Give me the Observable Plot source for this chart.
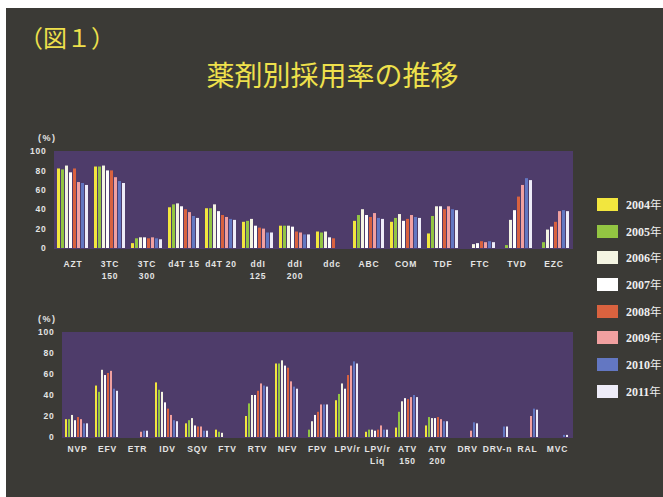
<!DOCTYPE html>
<html><head><meta charset="utf-8">
<script src="https://cdn.jsdelivr.net/npm/d3@7"></script>
<script src="https://cdn.jsdelivr.net/npm/@observablehq/plot@0.6"></script>
<style>
html,body{margin:0;padding:0}
body{background:#fff;width:663px;height:497px;overflow:hidden;position:relative;font-family:"Liberation Sans",Arial,sans-serif}
#panel{position:absolute;left:6px;top:8px;width:657px;height:489px;background:#3b3a36}
.abs{position:absolute}
#fig{left:19px;top:25px;font-size:24px;line-height:1;font-family:"Noto Sans CJK JP";color:#eee04c;white-space:nowrap}
#title{left:0;width:665px;top:60px;text-align:center;font-size:28px;line-height:1;font-family:"Noto Sans CJK JP";color:#eee04c}
.pct{font-size:9px;font-weight:bold;color:#e2e2e2;letter-spacing:1.5px;line-height:1}
#legend{left:597px;top:191px}
.item{display:flex;align-items:center;height:26.7px}
.sw{width:21px;height:13px;margin-right:8px}
.lab{font-family:"Liberation Serif",serif;font-weight:bold;font-size:12px;color:#eeeeee;white-space:nowrap}
.lab span{font-family:"Noto Sans CJK JP";font-weight:normal;font-size:11.5px}
</style></head>
<body>
<div id="panel"></div>
<div id="fig" class="abs">（図１）</div>
<div id="title" class="abs">薬剤別採用率の推移</div>
<div class="abs pct" style="left:38px;top:134px">(%)</div>
<div class="abs pct" style="left:38px;top:315px">(%)</div>
<div id="top" class="abs" style="left:0;top:125px"></div>
<div id="bottom" class="abs" style="left:0;top:305px"></div>
<div id="legend" class="abs"></div>
<script>
const years = ["2004","2005","2006","2007","2008","2009","2010","2011"];
const yearColors = ["#f2e63e","#93c542","#f4f4e2","#ffffff","#d9623f","#f1a0a0","#6377c2","#eeecf8"];
const yTicks = [0, 20, 40, 60, 80, 100];

const topDrugs = ["AZT","3TC\n150","3TC\n300","d4T 15","d4T 20","ddI\n125","ddI\n200","ddc","ABC","COM","TDF","FTC","TVD","EZC"];
const topValues = [
  [82, 81, 85, 78, 82, 68, 67, 65],
  [84, 84, 85, 80, 80, 73, 69, 67],
  [5, 10, 11, 11, 10, 11, 10, 9],
  [42, 45, 46, 43, 40, 37, 33, 31],
  [41, 41, 45, 38, 34, 32, 30, 29],
  [27, 28, 30, 23, 21, 20, 16, 16],
  [23, 23, 23, 22, 17, 16, 14, 14],
  [17, 16, 17, 11, 10, 0, 0, 0],
  [28, 34, 40, 34, 32, 36, 31, 30],
  [27, 31, 35, 28, 30, 34, 32, 31],
  [15, 33, 43, 43, 40, 43, 40, 39],
  [0, 0, 4, 5, 7, 6, 7, 6],
  [0, 3, 29, 39, 53, 65, 72, 70],
  [0, 6, 19, 22, 27, 38, 39, 38]
];

const bottomDrugs = ["NVP","EFV","ETR","IDV","SQV","FTV","RTV","NFV","FPV","LPV/r","LPV/r\nLiq","ATV\n150","ATV\n200","DRV","DRV-n","RAL","MVC"];
const bottomValues = [
  [17, 17, 21, 16, 19, 17, 13, 13],
  [49, 43, 64, 59, 61, 63, 46, 44],
  [0, 0, 0, 0, 0, 5, 6, 6],
  [52, 45, 43, 33, 27, 21, 16, 15],
  [13, 16, 18, 11, 10, 10, 6, 6],
  [7, 5, 4, 0, 0, 0, 0, 0],
  [20, 32, 40, 40, 44, 51, 49, 48],
  [70, 70, 73, 68, 66, 53, 48, 46],
  [0, 7, 15, 21, 24, 31, 31, 31],
  [35, 41, 51, 46, 59, 68, 72, 70],
  [5, 7, 7, 6, 7, 11, 7, 7],
  [9, 24, 34, 37, 36, 38, 40, 38],
  [11, 19, 18, 18, 19, 17, 15, 15],
  [0, 0, 0, 0, 0, 6, 14, 13],
  [0, 0, 0, 0, 0, 0, 10, 10],
  [0, 0, 0, 0, 0, 20, 27, 26],
  [0, 0, 0, 0, 0, 0, 2, 2]
];

function rows(drugs, values) {
  return drugs.flatMap((d, i) => years.map((y, j) => ({drug: d, year: y, value: values[i][j]})))
    .filter(r => r.value > 0);
}

function chart(drugs, values, o) {
  const data = rows(drugs, values);
  return Plot.plot({
    width: 590, height: o.height,
    marginLeft: o.ml, marginRight: o.mr, marginTop: o.mt, marginBottom: o.mb,
    style: {background: "transparent", color: "#e4e4e4", fontFamily: "Liberation Sans, Arial, sans-serif",
            fontWeight: "bold", fontSize: "8.5px", letterSpacing: "0.8px", overflow: "visible"},
    facet: {data, x: "drug"},
    fx: {domain: drugs, padding: 0, label: null},
    x: {domain: years, axis: null, paddingInner: 0.2, paddingOuter: o.po},
    y: {domain: [0, 100], ticks: yTicks, label: null},
    color: {domain: years, range: yearColors},
    marks: [
      Plot.frame({fill: "#4e3c6a", stroke: "#4e3c6a"}),
      Plot.barY(data, {x: "year", y: "value", fill: "year"}),
      Plot.axisY({ticks: yTicks, tickSize: 0, tickPadding: 8, label: null, fill: "#e4e4e4"}),
      Plot.axisFx({anchor: "bottom", tickSize: 0, tickPadding: o.tp, label: null, lineHeight: o.lh, fill: "#e4e4e4"})
    ]
  });
}

document.getElementById("top").append(chart(topDrugs, topValues,
  {height: 160, ml: 51, mr: 15, mt: 26, mb: 37, po: 0.66, tp: 9, lh: 1.5}));
document.getElementById("bottom").append(chart(bottomDrugs, bottomValues,
  {height: 170, ml: 57, mr: 14, mt: 27, mb: 38, po: 0.68, tp: 6, lh: 1.4}));

const legend = document.getElementById("legend");
years.forEach((y, i) => {
  const it = document.createElement("div");
  it.className = "item";
  it.innerHTML = `<div class="sw" style="background:${yearColors[i]}"></div><div class="lab">${y}<span>年</span></div>`;
  legend.append(it);
});
</script>
</body></html>
